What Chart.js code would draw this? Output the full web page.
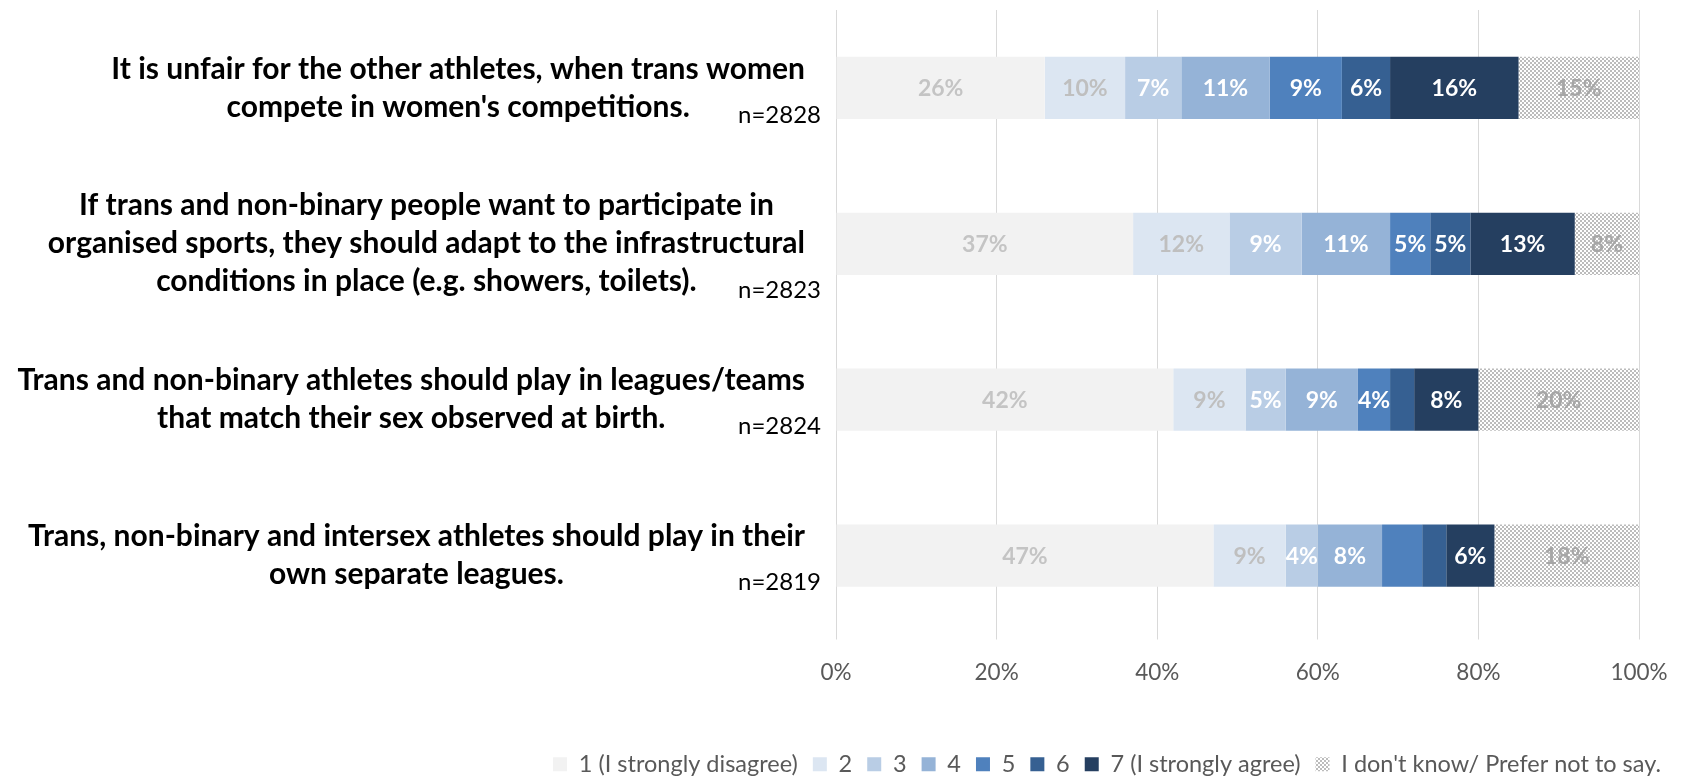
<!DOCTYPE html>
<html>
<head>
<meta charset="utf-8">
<title>Attitudes towards trans, non-binary and intersex athletes</title>
<script src="https://cdn.jsdelivr.net/npm/chart.js@4.4.1/dist/chart.umd.min.js"></script>
<style>
  html, body { margin: 0; padding: 0; background: #ffffff; }
  #wrap { width: 1683px; height: 777px; }
</style>
</head>
<body>
<div id="wrap"><canvas id="attitudes_chart" width="1683" height="777"></canvas></div>
<script>
"use strict";

// Statements, one per bar, split into the printed lines
var statements = [
    ["It is unfair for the other athletes, when trans women", "compete in women's competitions."],
    ["If trans and non-binary people want to participate in", "organised sports, they should adapt to the infrastructural", "conditions in place (e.g. showers, toilets)."],
    ["Trans and non-binary athletes should play in leagues/teams", "that match their sex observed at birth."],
    ["Trans, non-binary and intersex athletes should play in their", "own separate leagues."]
];
var sampleSizes = ["n=2828", "n=2823", "n=2824", "n=2819"];

var responseNames = ["1 (I strongly disagree)", "2", "3", "4", "5", "6", "7 (I strongly agree)", "I don't know/ Prefer not to say."];

// Share of answers in percent, one array per response option
var answer1 = [26, 37, 42, 47];
var answer2 = [10, 12, 9, 9];
var answer3 = [7, 9, 5, 4];
var answer4 = [11, 11, 9, 8];
var answer5 = [9, 5, 4, 5];
var answer6 = [6, 5, 3, 3];
var answer7 = [16, 13, 8, 6];
var dontKnow = [15, 8, 20, 18];

// [statement, response] pairs that carry no value label
var unlabelled = [[2, 5], [3, 4], [3, 5]];

var xTicks = [0, 20, 40, 60, 80, 100];

var AttitudesChart = function () {
    var FONT = "Lato, 'Open Sans', sans-serif";

    // Grey checker fill for the "don't know" answers
    var makeChecker = function () {
        var tile = document.createElement("canvas");
        tile.width = 4;
        tile.height = 4;
        var c = tile.getContext("2d");
        c.fillStyle = "#ffffff";
        c.fillRect(0, 0, 4, 4);
        c.fillStyle = "#bcbcbc";
        c.fillRect(0, 0, 2, 2);
        c.fillRect(2, 2, 2, 2);
        return document.createElement("canvas").getContext("2d").createPattern(tile, "repeat");
    };

    // Percent labels in the middle of every segment
    var valueLabels = {
        id: "valueLabels",
        afterDatasetsDraw: function (chart) {
            var ctx = chart.ctx;
            ctx.save();
            ctx.font = "bold 23px " + FONT;
            ctx.textAlign = "center";
            ctx.textBaseline = "middle";
            chart.data.datasets.forEach(function (ds, di) {
                var meta = chart.getDatasetMeta(di);
                meta.data.forEach(function (bar, i) {
                    var skip = unlabelled.some(function (p) { return p[0] === i && p[1] === di; });
                    if (skip) {
                        return;
                    }
                    ctx.fillStyle = ds.labelColor;
                    ctx.fillText(ds.data[i] + "%", (bar.x + bar.base) / 2, bar.y + 1);
                });
            });
            ctx.restore();
        }
    };

    // Statement text (centred lines, block right-aligned) plus sample size
    var statementLabels = {
        id: "statementLabels",
        afterDraw: function (chart) {
            var ctx = chart.ctx;
            var yScale = chart.scales.y;
            var right = 805;
            var lineHeight = 38;
            ctx.save();
            ctx.textBaseline = "middle";
            statements.forEach(function (lines, i) {
                var yc = yScale.getPixelForTick(i);
                ctx.font = "bold 30px " + FONT;
                ctx.fillStyle = "#000000";
                ctx.textAlign = "center";
                var widest = 0;
                lines.forEach(function (l) { widest = Math.max(widest, ctx.measureText(l).width); });
                var cx = right - widest / 2;
                var lastY = yc;
                lines.forEach(function (l, j) {
                    lastY = yc + (j - (lines.length - 1) / 2) * lineHeight;
                    ctx.fillText(l, cx, lastY);
                });
                ctx.font = "24px " + FONT;
                ctx.textAlign = "right";
                ctx.fillText(sampleSizes[i], 821, lastY + 8);
            });
            ctx.restore();
        }
    };

    var initChart = function () {
        var element = document.getElementById("attitudes_chart");
        if (!element) {
            return;
        }

        var seriesData = [answer1, answer2, answer3, answer4, answer5, answer6, answer7, dontKnow];
        var fills = ["#f2f2f2", "#dce6f2", "#b9cde5", "#95b3d7", "#4f81bd", "#366092", "#253f60", makeChecker()];
        var textColors = ["#c4c4c4", "#bfbfbf", "#ffffff", "#ffffff", "#ffffff", "#ffffff", "#ffffff", "#a6a6a6"];

        var datasets = seriesData.map(function (values, k) {
            return {
                label: responseNames[k],
                data: values,
                backgroundColor: fills[k],
                borderWidth: 0,
                labelColor: textColors[k],
                categoryPercentage: 1.0,
                barPercentage: 0.4
            };
        });

        var config = {
            type: "bar",
            data: {
                labels: statements,
                datasets: datasets
            },
            options: {
                indexAxis: "y",
                responsive: false,
                animation: false,
                devicePixelRatio: 1,
                layout: {
                    padding: { left: 0, right: 7, top: 10, bottom: -9 }
                },
                scales: {
                    x: {
                        stacked: true,
                        min: 0,
                        max: 100,
                        afterBuildTicks: function (scale) {
                            scale.ticks = xTicks.map(function (v) { return { value: v }; });
                        },
                        afterFit: function (scale) {
                            scale.height = 104;
                            scale.paddingRight = 44;
                        },
                        grid: {
                            color: "#d9d9d9",
                            lineWidth: 1,
                            drawTicks: true,
                            tickLength: 6
                        },
                        border: { display: false },
                        ticks: {
                            padding: 20,
                            color: "#595959",
                            font: { family: FONT, size: 22.5 },
                            callback: function (v) { return v + "%"; }
                        }
                    },
                    y: {
                        stacked: true,
                        afterFit: function (scale) {
                            scale.width = 836;
                        },
                        grid: { display: false },
                        border: { display: false },
                        ticks: { display: false }
                    }
                },
                plugins: {
                    legend: {
                        position: "bottom",
                        align: "end",
                        labels: {
                            boxWidth: 14,
                            boxHeight: 14,
                            padding: 15,
                            color: "#595959",
                            font: { family: FONT, size: 23.5 }
                        }
                    },
                    tooltip: { enabled: false }
                }
            },
            plugins: [valueLabels, statementLabels]
        };

        new Chart(element.getContext("2d"), config);
    };

    return {
        init: function () {
            initChart();
        }
    };
}();

document.addEventListener("DOMContentLoaded", function () {
    AttitudesChart.init();
});
</script>
</body>
</html>
